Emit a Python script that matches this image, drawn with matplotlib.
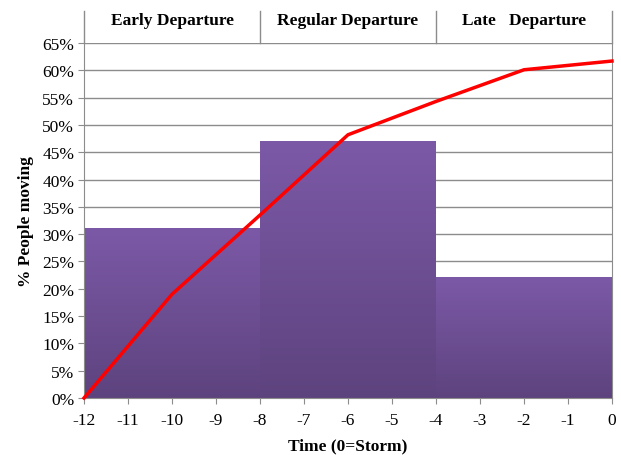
"""Share of people moving before a storm, by departure window."""
import numpy as np
import matplotlib
matplotlib.use('Agg')
from matplotlib import pyplot as plt
from matplotlib.colors import LinearSegmentedColormap

# departure windows (bars)
window_names = ['Early Departure', 'Regular Departure', 'Late   Departure']
window_start = [-12, -8, -4]
window_end = [-8, -4, 0]
window_share = [31, 47, 22]

# cumulative share of people moving (red line)
line_time = [-12, -10, -8, -6, -4, -2, 0]
line_share = [0, 19, 33.5, 48.2, 54.3, 60.1, 61.7]

plt.rcParams['font.family'] = ['Liberation Serif', 'DejaVu Serif']
plt.rcParams['axes.unicode_minus'] = False

fig = plt.figure(figsize=(6.21, 4.56), dpi=100)
ax = fig.add_axes([0.1353, 0.125, 0.8502, 0.7785])

grey = '#8c8c8c'
purple = LinearSegmentedColormap.from_list('purple', ['#5d437e', '#7c59a7'])
gradient = np.linspace(0, 1, 256).reshape(-1, 1)

ax.set_xlim(-12, 0)
ax.set_ylim(0, 65)

for y in range(5, 70, 5):
    ax.axhline(y, color=grey, lw=1.0, zorder=1)

for x0, x1, h in zip(window_start, window_end, window_share):
    ax.imshow(gradient, cmap=purple, origin='lower', aspect='auto',
              extent=(x0, x1, 0, h), zorder=2)

ax.plot(line_time, line_share, color='#ff0000', lw=2.5, zorder=3,
        solid_joinstyle='miter', clip_on=False)

# header row above the plot with the window names
head_top = 70.9
for x in window_start + [0]:
    ax.plot([x, x], [65, head_top], color=grey, lw=1.0, clip_on=False)
for name, x0, x1 in zip(window_names, window_start, window_end):
    ax.text((x0 + x1) / 2, 69.2, name, ha='center', va='center',
            fontsize=12.5, fontweight='bold')

ax.set_xticks(range(-12, 1))
ax.set_yticks(range(0, 70, 5))
ax.set_yticklabels(['%d%%' % v for v in range(0, 70, 5)])
ax.tick_params(direction='out', length=4, color=grey, labelsize=12.5, pad=3)
ax.tick_params(axis='x', pad=6)

for side in ['left', 'bottom', 'right']:
    ax.spines[side].set_color(grey)
ax.spines['top'].set_visible(False)

ax.set_xlabel('Time (0=Storm)', fontsize=12.5, fontweight='bold', labelpad=7)
ax.set_ylabel('% People moving', fontsize=12.5, fontweight='bold', labelpad=6)

fig.savefig('out.png', dpi=100)
